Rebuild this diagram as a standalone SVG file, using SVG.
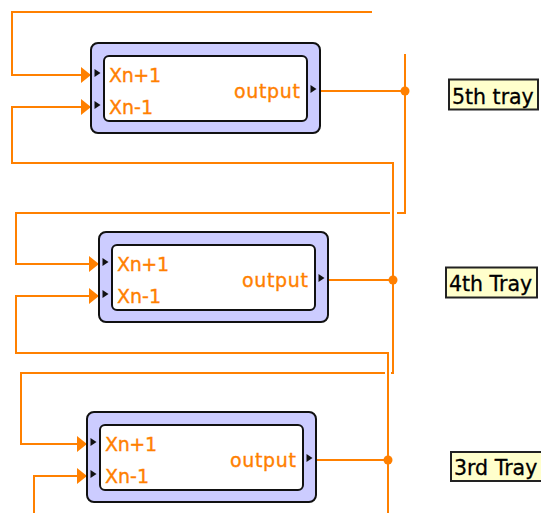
<svg xmlns="http://www.w3.org/2000/svg" width="541" height="513" viewBox="0 0 541 513">
  <style>
    .wire { fill: none; stroke: #ff8000; stroke-width: 2; }
    .outer { fill: #ccccff; stroke: #111; stroke-width: 2; }
    .inner { fill: #ffffff; stroke: #111; stroke-width: 2; }
    .port { fill: #111; }
    .term { fill: #ff8000; stroke: #ff8000; stroke-width: 0.35; font-family: "DejaVu Sans", Verdana, sans-serif; font-size: 19px; }
    .tag rect { fill: #ffffcc; stroke: #222; stroke-width: 2; }
    .tag text { fill: #000; stroke: #000; stroke-width: 0.3; font-family: "DejaVu Sans", Verdana, sans-serif; font-size: 20.5px; }
    .dot { fill: #ff8000; }
  </style>
  <defs>
    <marker id="arrow" markerUnits="userSpaceOnUse" markerWidth="12" markerHeight="18" refX="10" refY="8" orient="auto">
      <path d="M0,0 L10,8 L0,16 Z" fill="#ff8000"/>
    </marker>
    <!-- one tray subVI: frame, terminals and their labels -->
    <g id="tray">
      <rect class="outer" x="0" y="0" width="229" height="90" rx="7"/>
      <rect class="inner" x="13" y="13" width="203" height="65" rx="5"/>
      <polygon class="port" points="3.5,26 9.5,30 3.5,34"/>
      <polygon class="port" points="3.5,58 9.5,62 3.5,66"/>
      <polygon class="port" points="219.5,42 225.5,46 219.5,50"/>
      <text class="term" x="18" y="39" textLength="52">Xn+1</text>
      <text class="term" x="18" y="71" textLength="44">Xn-1</text>
      <text class="term" x="209" y="55" text-anchor="end" textLength="66">output</text>
    </g>
  </defs>

  <!-- wiring between trays -->
  <g id="connectors">
    <!-- feed from the tray above into 5th tray Xn+1 -->
    <path class="wire" d="M372,12 H12 V75 H91" marker-end="url(#arrow)"/>
    <!-- 5th tray output, down to 4th tray Xn+1 (gap where it passes the x=393 wire) -->
    <path class="wire" d="M320,91 H405"/>
    <path class="wire" d="M405,54 V213 H397"/>
    <path class="wire" d="M390,213 H16 V264 H99" marker-end="url(#arrow)"/>
    <!-- 4th tray output, up to 5th tray Xn-1 and down to 3rd tray Xn+1 -->
    <path class="wire" d="M328,280 H393"/>
    <path class="wire" d="M393,280 V163 H12 V107 H91" marker-end="url(#arrow)"/>
    <path class="wire" d="M393,280 V373 H391"/>
    <path class="wire" d="M385,373 H21 V444 H87" marker-end="url(#arrow)"/>
    <!-- 3rd tray output, up to 4th tray Xn-1 and on down -->
    <path class="wire" d="M316,460 H388"/>
    <path class="wire" d="M388,513 V353 H16 V296 H99" marker-end="url(#arrow)"/>
    <!-- feed from the tray below into 3rd tray Xn-1 -->
    <path class="wire" d="M34,513 V476 H87" marker-end="url(#arrow)"/>
    <circle class="dot" cx="405" cy="91" r="4.5"/>
    <circle class="dot" cx="393" cy="280" r="4.5"/>
    <circle class="dot" cx="388" cy="460" r="4.5"/>
  </g>

  <g id="tray5"><use href="#tray" x="91" y="43"/></g>
  <g id="tray4"><use href="#tray" x="99" y="232"/></g>
  <g id="tray3"><use href="#tray" x="87" y="412"/></g>

  <g id="label5" class="tag">
    <rect x="449" y="79.5" width="89" height="30"/>
    <text x="452" y="104">5th tray</text>
  </g>
  <g id="label4" class="tag">
    <rect x="446" y="267.5" width="91" height="30"/>
    <text x="449" y="291">4th Tray</text>
  </g>
  <g id="label3" class="tag">
    <rect x="451" y="452" width="100" height="29"/>
    <text x="454" y="475">3rd Tray</text>
  </g>
</svg>
